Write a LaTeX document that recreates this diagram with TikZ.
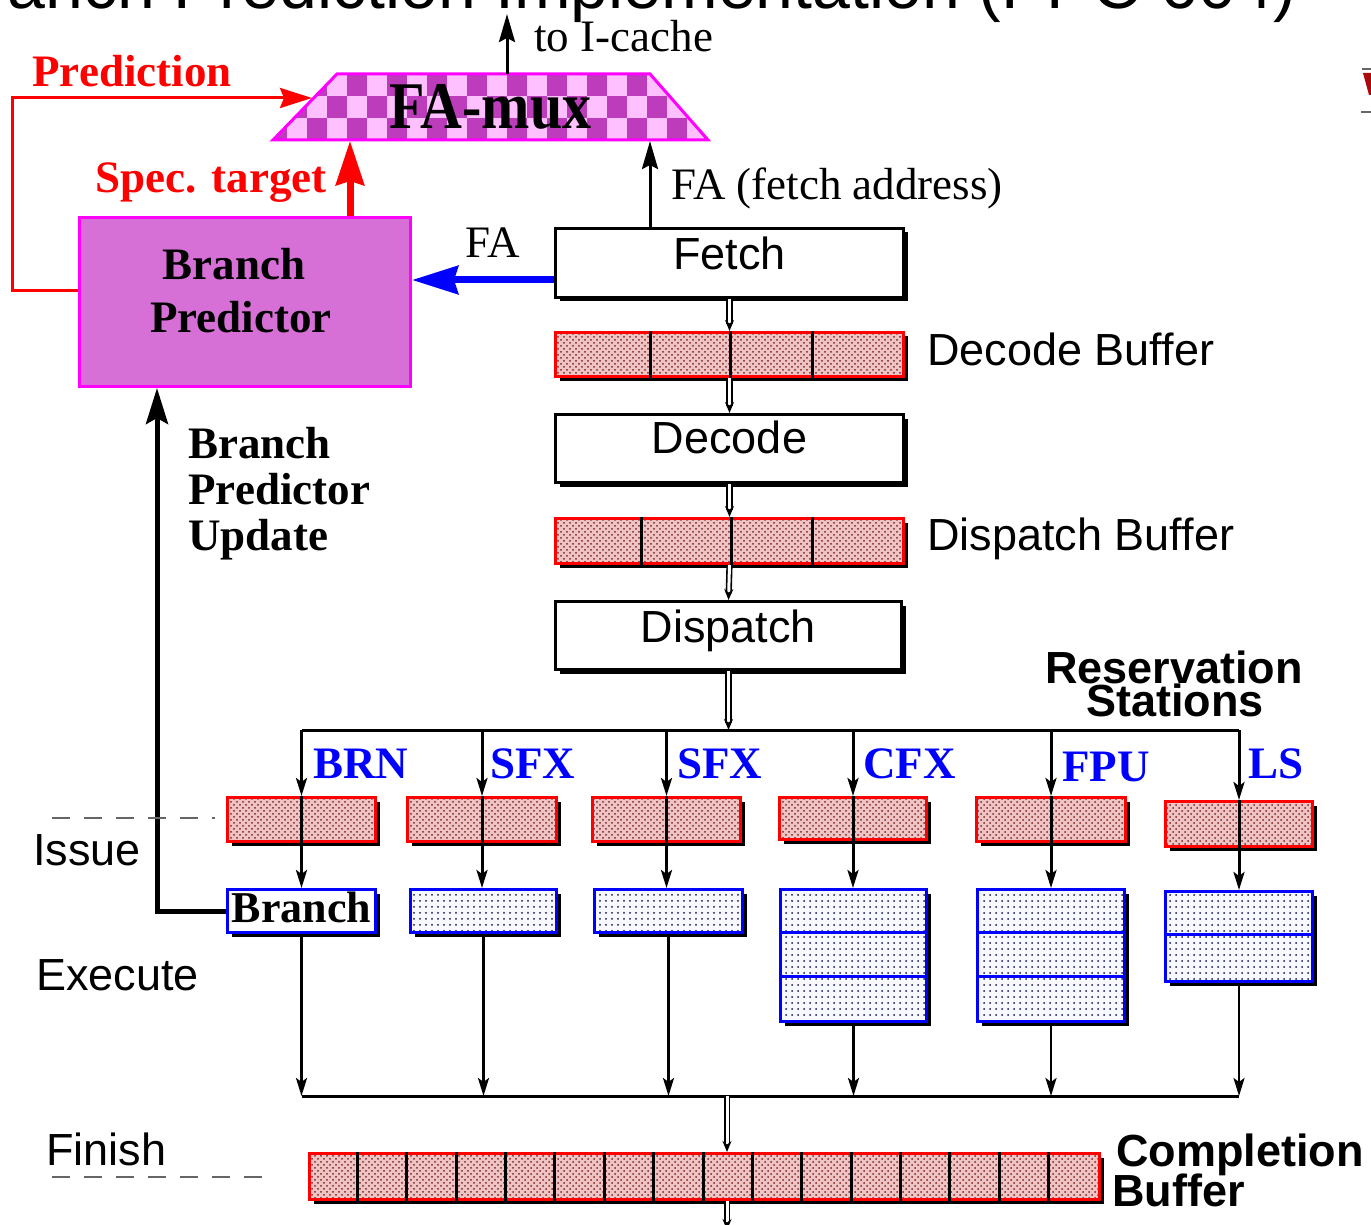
\documentclass[tikz,border=0pt]{standalone}
\usepackage{fontspec}
\setmainfont{Liberation Serif}
\setsansfont{Liberation Sans}
\usetikzlibrary{arrows.meta,patterns,shadows}
\definecolor{bufbg}{RGB}{238,196,196}
\definecolor{bufdot}{RGB}{125,35,35}
\definecolor{exbg}{RGB}{248,248,255}
\definecolor{exdot}{RGB}{20,20,80}
\definecolor{bpfill}{RGB}{214,112,214}
\definecolor{mdark}{RGB}{188,60,188}
\definecolor{mlight}{RGB}{255,192,255}
\definecolor{pureblue}{RGB}{0,0,255}
\definecolor{purered}{RGB}{255,0,0}
\definecolor{puremag}{RGB}{255,0,255}
\definecolor{logored}{RGB}{170,10,10}
\tikzset{
  shadowed/.style={drop shadow={shadow xshift=2pt, shadow yshift=-2pt, fill=black, opacity=1}},
  procbox/.style={shadowed, draw=black, line width=1.5pt, fill=white, inner sep=0pt, anchor=north west,
    text width=174pt, align=center, font=\sffamily\fontsize{22.5}{26}\selectfont},
  bufbox/.style={shadowed, draw=purered, line width=1.5pt, inner sep=0pt, anchor=north west,
    preaction={fill=bufbg}, pattern=crosshatch dots, pattern color=bufdot},
  exbox/.style={shadowed, draw=pureblue, line width=1.5pt, inner sep=0pt, anchor=north west,
    preaction={fill=exbg}, pattern=dots, pattern color=exdot},
  brbox/.style={shadowed, draw=pureblue, line width=1.5pt, fill=white, inner sep=0pt, anchor=north west,
    text width=74pt, align=center, text height=16.5pt, text depth=5pt,
    font=\bfseries\fontsize{22}{26}\selectfont},
  divider/.style={line width=1.5pt, black},
  sr/.style={inner sep=0pt, font=\fontsize{22.5}{26}\selectfont},
  sb/.style={inner sep=0pt, font=\bfseries\fontsize{22.5}{26}\selectfont},
  ss/.style={inner sep=0pt, font=\sffamily\fontsize{22.5}{26}\selectfont},
  ssb/.style={inner sep=0pt, font=\sffamily\bfseries\fontsize{22.5}{26}\selectfont},
  arr/.style={line width=1.5pt, -{Stealth[length=9pt,width=5.5pt,inset=2pt]}},
  arrthin/.style={line width=1.25pt, -{Stealth[length=9pt,width=5.5pt,inset=2pt]}},
  dbl/.style={double=white, double distance=1.5pt, line width=0.8pt, -{Stealth[length=5.5pt,width=4.5pt]}},
  blkarr/.style={line width=1.5pt, -{Stealth[length=14pt,width=8pt,inset=2pt]}},
  predarr/.style={purered, line width=1.5pt, -{Stealth[length=16pt,width=10pt,inset=2pt]}},
  specarr/.style={purered, line width=3.5pt, -{Stealth[length=22pt,width=14pt,inset=2pt]}},
  faarr/.style={pureblue, line width=3.5pt, -{Stealth[length=23pt,width=14pt,inset=2pt]}},
  bpuarr/.style={line width=2.5pt, -{Stealth[length=18pt,width=11pt,inset=3pt]}},
  dashln/.style={black!60, line width=0.75pt, dash pattern=on 9pt off 7pt},
}
\begin{document}
\begin{tikzpicture}[x=0.5pt,y=-0.5pt]
\path[use as bounding box, clip] (0,0) rectangle (1371,1225);
\fill[white] (0,0) rectangle (1371,1225);

% title (clipped at top)
\node[inner sep=0pt, anchor=base east, font=\sffamily\fontsize{34}{40}\selectfont] (title) at (1297,9)
  {Branch Prediction Implementation (PPC 604)};
% logo fragment at right edge
\draw[black!60, line width=1pt] (1362,69) -- (1371,69);
\fill[logored] (1363,73) -- (1371,73) -- (1371,95) -- (1369,95) -- cycle;
\draw[black!60, line width=1pt] (1361,112) -- (1371,112);

% FA-mux
\begin{scope}
\clip (337,74) -- (650,74) -- (708,140) -- (273,140) -- cycle;
\fill[mlight] (273,74) rectangle (708,140);
\foreach \i in {0,...,11} {
  \fill[mdark] ({267+40*\i},74) rectangle ++(20,22);
  \fill[mdark] ({287+40*\i},96) rectangle ++(20,22);
  \fill[mdark] ({267+40*\i},118) rectangle ++(20,22);
}
\end{scope}
\draw[puremag, line width=1.5pt] (337,74) -- (650,74) -- (708,140) -- (273,140) -- cycle;
\node[inner sep=0pt, minimum width=217.5pt, minimum height=33pt, font=\bfseries\fontsize{29}{32}\selectfont]
  (famux) at (490.5,107) {\scalebox{1}[1.15]{FA-mux}};

% Branch predictor
\node[draw=puremag, line width=1.5pt, fill=bpfill, minimum width=165.5pt, minimum height=84.5pt,
  anchor=north west, inner sep=0pt] (bp) at (78,216) {};
\node[sb, anchor=base] (bpl1) at (234,280) {Branch};
\node[sb, anchor=base] (bpl2) at (241,333) {Predictor};

% pipeline
\node[procbox, text height=20.5pt, text depth=14pt] (fetch) at (554,227) {Fetch};
\node[bufbox, minimum width=174pt, minimum height=22pt] (decbuf) at (554,331) {};
\node[procbox, text height=19.5pt, text depth=14.5pt] (decode) at (554,413) {Decode};
\node[bufbox, minimum width=174pt, minimum height=22.5pt] (dispbuf) at (554,517) {};
\node[procbox, text width=173pt, text height=20.5pt, text depth=13.5pt] (dispatch) at (554,600) {Dispatch};
\foreach \x in {650,730,812} \draw[divider] (\x,0 |- decbuf.north) -- (\x,0 |- decbuf.south);
\foreach \x in {641,731,812} \draw[divider] (\x,0 |- dispbuf.north) -- (\x,0 |- dispbuf.south);

% reservation stations
\node[bufbox, minimum width=74pt, minimum height=22pt] (rs1) at (226,796) {};
\node[bufbox, minimum width=74.5pt, minimum height=22pt] (rs2) at (406,796) {};
\node[bufbox, minimum width=74pt, minimum height=22pt] (rs3) at (591,796) {};
\node[bufbox, minimum width=73.5pt, minimum height=21pt] (rs4) at (778,796) {};
\node[bufbox, minimum width=74.5pt, minimum height=22pt] (rs5) at (975,796) {};
\node[bufbox, minimum width=73.5pt, minimum height=22.5pt] (rs6) at (1164,800) {};
\foreach \n in {rs1,rs2,rs3,rs4,rs5,rs6} \draw[divider] (\n.north) -- (\n.south);

% execution units
\node[brbox] (ex1) at (226,888) {Branch};
\node[exbox, minimum width=73pt, minimum height=21.5pt] (ex2) at (409,888) {};
\node[exbox, minimum width=74pt, minimum height=21.5pt] (ex3) at (593,888) {};
\node[exbox, minimum width=73pt, minimum height=66pt] (ex4) at (779,888) {};
\node[exbox, minimum width=73.5pt, minimum height=66pt] (ex5) at (976,888) {};
\node[exbox, minimum width=73.5pt, minimum height=45pt] (ex6) at (1164,890) {};
\foreach \n in {ex4,ex5} {
  \draw[pureblue, line width=1.5pt] (\n.west |- 0,932) -- (\n.east |- 0,932);
  \draw[pureblue, line width=1.5pt] (\n.west |- 0,976) -- (\n.east |- 0,976);
}
\draw[pureblue, line width=1.5pt] (ex6.west |- 0,934) -- (ex6.east |- 0,934);

% completion buffer
\node[bufbox, minimum width=395pt, minimum height=23pt] (cbuf) at (308,1152) {};
\foreach \k in {1,...,15} {
  \pgfmathsetmacro\xx{308+49.375*\k}
  \draw[divider] (\xx,0 |- cbuf.north) -- (\xx,0 |- cbuf.south);
}

% connectors in pipeline
\draw[dbl] (fetch.south) -- (decbuf.north);
\draw[dbl] (decbuf.south) -- (decode.north);
\draw[dbl] (decode.south) -- (dispbuf.north);
\draw[dbl] (dispbuf.south) -- (dispatch.south |- dispatch.north);
\coordinate (busL) at (rs1.north |- 0,730);
\coordinate (busR) at (rs6.north |- 0,730);
\draw[line width=1.5pt] (busL) -- (busR);
\draw[dbl] (dispatch.south) -- (dispatch.south |- busL);
\foreach \n in {rs1,rs2,rs3,rs4,rs5,rs6} \draw[arr] (\n.north |- busL) -- (\n.north);
\foreach \i in {1,...,6} \draw[arr] (rs\i.south) -- (rs\i.south |- ex\i.north);
\coordinate (bbL) at (ex1.south |- 0,1096);
\coordinate (bbR) at (ex6.south |- 0,1096);
\draw[line width=1.5pt] (bbL) -- (bbR);
\foreach \i in {1,...,6} \draw[arrthin] (ex\i.south) -- (ex\i.south |- bbL);
\coordinate (cin) at (727,1096);
\coordinate (cout) at (727,1230);
\draw[dbl] (cin) -- (cin |- cbuf.north);
\draw[dbl] (cin |- cbuf.south) -- (cout);

% fetch address paths
\coordinate (muxin) at (650,141);
\draw[blkarr] (fetch.north -| muxin) -- (muxin);
\coordinate (icache) at (507,14);
\draw[blkarr] (famux.north -| icache) -- (icache);
\coordinate (fain) at (bp.east |- 0,280);
\draw[faarr] (fetch.west |- fain) -- (fain);
\coordinate (specin) at (350,141);
\draw[specarr] (specin |- bp.north) -- (specin);
\coordinate (pout) at (bp.west |- 0,291);
\coordinate (pin) at (312,98);
\draw[predarr] (pout) -| (12,98) -- (pin);
\coordinate (bpu) at (157,0 |- bp.south);
\draw[bpuarr] (ex1.west) -| (bpu);

% dashed stage markers
\coordinate (d1a) at (52,818); \coordinate (d1b) at (215,818);
\coordinate (d2a) at (52,1177); \coordinate (d2b) at (275,1177);
\draw[dashln] (d1a) -- (d1b);
\draw[dashln] (d2a) -- (d2b);

% labels
\node[sr, anchor=base west] (licache) at (534,52) {to I-cache};
\node[sb, anchor=base west, text=purered] (lpred) at (32,87) {Prediction};
\node[sb, anchor=base west, text=purered] (lspec) at (95,193) {Spec. target};
\node[sr, anchor=base west] (lfaddr) at (671,200) {FA (fetch address)};
\node[sr, anchor=base west] (lfa) at (465,258) {FA};
\node[sb, anchor=base west] (lbpu1) at (188,458) {Branch};
\node[sb, anchor=base west] (lbpu2) at (188,504) {Predictor};
\node[sb, anchor=base west] (lbpu3) at (188,550) {Update};
\node[ss, anchor=base west] (ldecbuf) at (927,365) {Decode Buffer};
\node[ss, anchor=base west] (ldispbuf) at (927,550) {Dispatch Buffer};
\node[ssb, anchor=base] (lres1) at (1174,683) {Reservation};
\node[ssb, anchor=base] (lres2) at (1175,716) {Stations};
\node[sb, anchor=base west, text=pureblue] (lbrn) at (313,778) {BRN};
\node[sb, anchor=base west, text=pureblue] (lsfx1) at (490,778) {SFX};
\node[sb, anchor=base west, text=pureblue] (lsfx2) at (677,778) {SFX};
\node[sb, anchor=base west, text=pureblue] (lcfx) at (863,778) {CFX};
\node[sb, anchor=base west, text=pureblue] (lfpu) at (1062,781) {FPU};
\node[sb, anchor=base west, text=pureblue] (lls) at (1248,778) {LS};
\node[ss, anchor=base west] (lissue) at (33,865) {Issue};
\node[ss, anchor=base west] (lexec) at (36,990) {Execute};
\node[ss, anchor=base west] (lfinish) at (46,1165) {Finish};
\node[ssb, anchor=base west] (lcomp1) at (1116,1166) {Completion};
\node[ssb, anchor=base west] (lcomp2) at (1112,1206) {Buffer};
\end{tikzpicture}
\end{document}
